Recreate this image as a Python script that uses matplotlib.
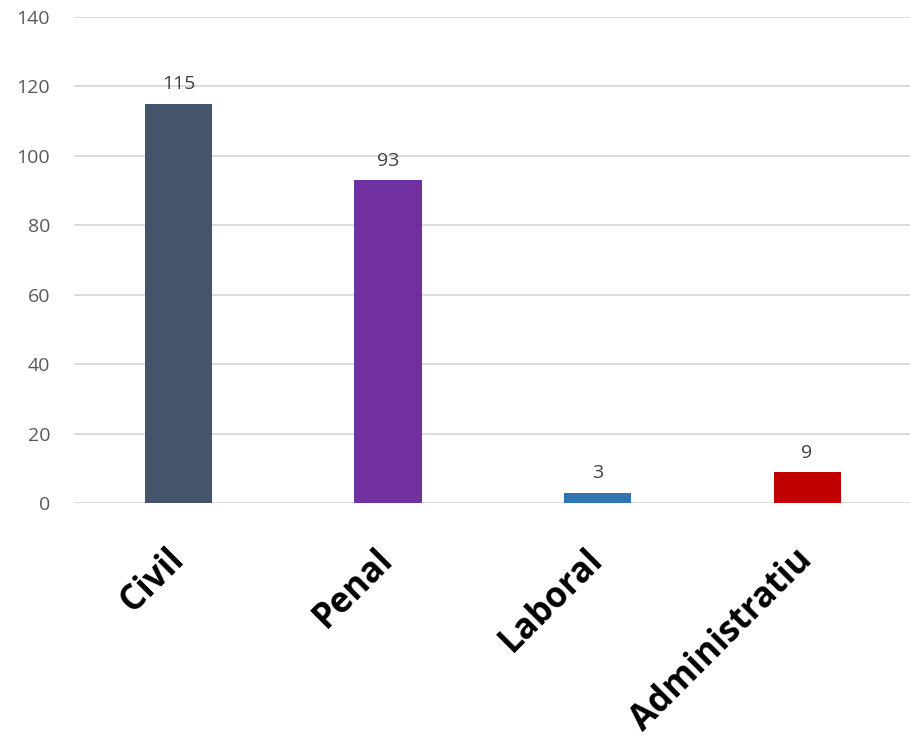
import matplotlib.pyplot as plt

categories = ["Civil", "Penal", "Laboral", "Administratiu"]
values = [115, 93, 3, 9]
colors = ["#44546A", "#7030A0", "#2E75B6", "#C00000"]

plt.rcParams['font.family'] = ['Open Sans', 'DejaVu Sans']

fig = plt.figure(figsize=(9.1, 7.4), dpi=100)
ax = fig.add_axes([0.081, 0.320, 0.921, 0.657])

x = range(len(categories))
bars = ax.bar(x, values, width=0.32, color=colors, zorder=3)
for b, v in zip(bars, values):
    ax.text(b.get_x() + b.get_width() / 2, v + 3, str(v), ha='center', va='bottom',
            fontsize=14, color='#404040')

ax.set_ylim(0, 140)
ax.set_xlim(-0.5, 3.5)
ax.set_yticks(range(0, 141, 20))
ax.yaxis.grid(True, color='#D9D9D9', linewidth=1.3, zorder=0)
for s in ax.spines.values():
    s.set_visible(False)
ax.tick_params(axis='y', length=0, labelsize=14, labelcolor='#595959', pad=17)
ax.tick_params(axis='x', length=0, pad=37)
ax.set_xticks(list(x))
ax.set_xticklabels(categories, rotation=45, ha='right', va='center', rotation_mode='anchor',
                   fontsize=25, fontweight='bold', color='black')

fig.savefig("out.png", dpi=100)
